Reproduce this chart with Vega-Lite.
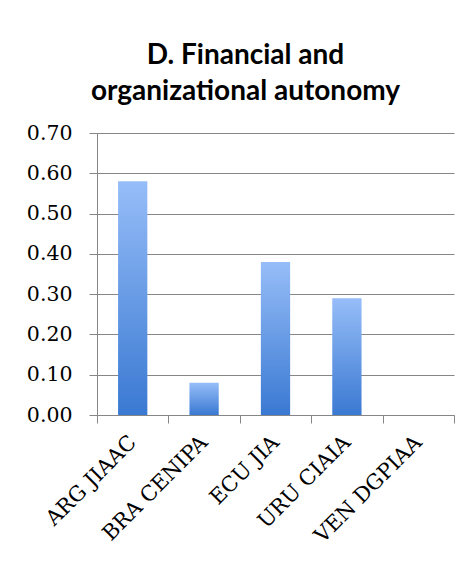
{
  "$schema": "https://vega.github.io/schema/vega-lite/v6.json",
  "width": 357,
  "height": 282,
  "autosize": {"type": "none"},
  "padding": {"left": 97, "top": 133, "right": 16, "bottom": 146},
  "background": "white",
  "title": {
    "text": ["D. Financial and", "organizational autonomy"],
    "font": "Lato",
    "fontWeight": "bold",
    "fontSize": 28,
    "lineHeight": 36,
    "color": "#000000",
    "anchor": "middle",
    "dx": -30,
    "offset": 17
  },
  "data": {
    "values": [
      {"org": "ARG JIAAC", "value": 0.58},
      {"org": "BRA CENIPA", "value": 0.08},
      {"org": "ECU JIA", "value": 0.38},
      {"org": "URU CIAIA", "value": 0.29},
      {"org": "VEN DGPIAA", "value": 0.0}
    ]
  },
  "mark": {
    "type": "bar",
    "width": {"band": 0.41},
    "color": {
      "gradient": "linear",
      "x1": 0, "y1": 0, "x2": 0, "y2": 1,
      "stops": [
        {"offset": 0, "color": "#96BDF8"},
        {"offset": 1, "color": "#3A79D2"}
      ]
    }
  },
  "encoding": {
    "x": {
      "field": "org",
      "type": "nominal",
      "sort": null,
      "title": null,
      "scale": {"paddingInner": 0, "paddingOuter": 0},
      "axis": {
        "labelAngle": -45,
        "labelAlign": "right",
        "labelBaseline": "middle",
        "labelFont": "DejaVu Serif",
        "labelFontSize": 21,
        "labelColor": "#000000",
        "labelPadding": 16,
        "tickBand": "extent",
        "tickSize": 8,
        "tickColor": "#868686",
        "domainColor": "#868686",
        "grid": false
      }
    },
    "y": {
      "field": "value",
      "type": "quantitative",
      "title": null,
      "scale": {"domain": [0, 0.7], "nice": false},
      "axis": {
        "values": [0, 0.1, 0.2, 0.3, 0.4, 0.5, 0.6, 0.7],
        "format": ".2f",
        "labelFont": "DejaVu Serif",
        "labelFontSize": 20.5,
        "labelColor": "#000000",
        "labelPadding": 17,
        "tickSize": 8,
        "tickColor": "#868686",
        "domainColor": "#868686",
        "grid": true,
        "gridColor": "#868686",
        "gridOpacity": 1
      }
    }
  },
  "config": {"view": {"stroke": null}}
}
